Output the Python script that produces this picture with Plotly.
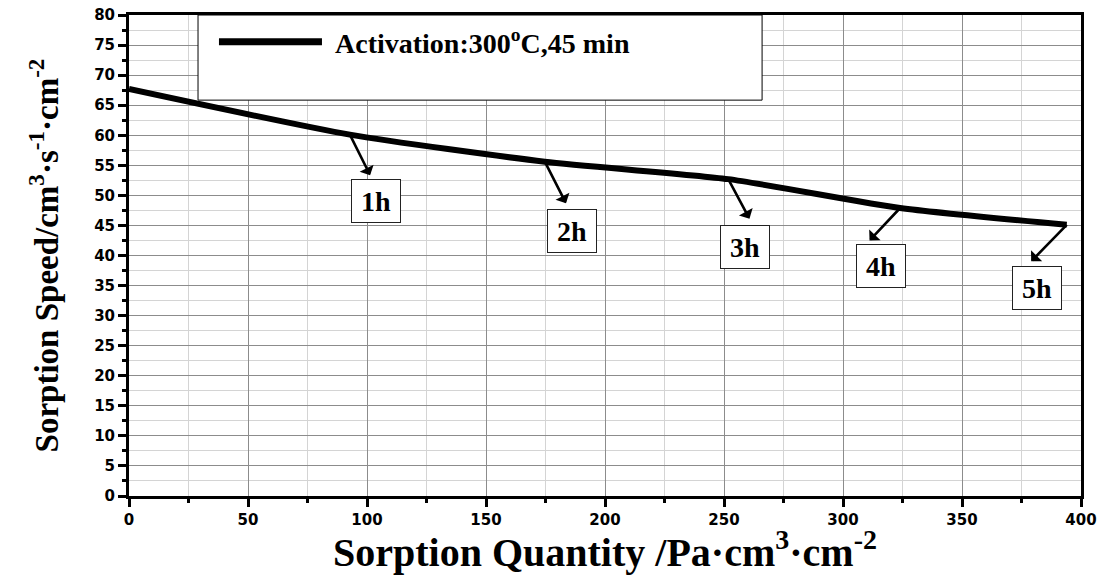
import plotly.graph_objects as go

# Sorption quantity (Pa·cm3·cm-2) and sorption speed (cm3·s-1·cm-2)
quantity = [0, 92.8, 174.7, 251.8, 324.0, 394.0]
speed = [67.7, 60.1, 55.6, 52.7, 47.9, 45.1]

# Hour marks along the curve (index into the series above)
hour_labels = ["1h", "2h", "3h", "4h", "5h"]
hour_index = [1, 2, 3, 4, 5]
# pixel offsets from each curve point to its arrow tip and to its label box
arrow_dx = [21, 22, 22, -32, -37]
arrow_dy = [42, 43, 41, 34, 38]
label_dx = [26, 27, 17, -19, -30]
label_dy = [66, 69, 68, 58, 63]

x_ticks = [0, 50, 100, 150, 200, 250, 300, 350, 400]
y_ticks = [0, 5, 10, 15, 20, 25, 30, 35, 40, 45, 50, 55, 60, 65, 70, 75, 80]

series_name = "Activation:300<sup>o</sup>C,45 min"

SERIF = "Liberation Serif"
SANS = "DejaVu Sans"

fig = go.Figure()
fig.add_trace(go.Scatter(
    x=quantity, y=speed, mode="lines", name=series_name,
    line=dict(color="black", width=6, shape="spline", smoothing=0.6),
    showlegend=False,
))

annotations = []
for lab, i, adx, ady, dx, dy in zip(hour_labels, hour_index,
                                     arrow_dx, arrow_dy, label_dx, label_dy):
    # arrow from the curve point down to the label
    annotations.append(dict(
        x=quantity[i], y=speed[i], xref="x", yref="y",
        ax=adx, ay=ady, axref="pixel", ayref="pixel",
        text="", showarrow=True, arrowside="start", arrowhead=2,
        arrowsize=1.5, arrowwidth=2.6, arrowcolor="black",
        standoff=0, startstandoff=0,
    ))
    # boxed hour label
    annotations.append(dict(
        x=quantity[i], y=speed[i], xref="x", yref="y",
        xshift=dx, yshift=-dy, showarrow=False,
        text="<b>" + lab + "</b>",
        font=dict(family=SERIF, size=28, color="black"),
        bgcolor="white", bordercolor="#222", borderwidth=1,
        width=46, height=40, borderpad=1,
    ))

# legend panel: box, line sample and series text
annotations.append(dict(
    x=0.214, y=0.9445, xref="paper", yref="paper",
    xanchor="left", yanchor="middle", showarrow=False,
    text="<b>" + series_name + "</b>",
    font=dict(family=SERIF, size=28, color="black"),
))
shapes = [
    dict(type="rect", xref="paper", yref="paper",
         x0=0.0725, x1=0.665, y0=0.823, y1=1.0,
         fillcolor="white", line=dict(color="black", width=1), layer="above"),
    dict(type="line", xref="paper", yref="paper",
         x0=0.0945, x1=0.2027, y0=0.9445, y1=0.9445,
         line=dict(color="black", width=7), layer="above"),
]

axis_common = dict(
    showline=True, linecolor="black", linewidth=3, mirror=True,
    ticks="outside", ticklen=8, tickwidth=3, tickcolor="black",
    showgrid=True, gridcolor="#8c8c8c", gridwidth=1,
    zeroline=False, automargin=False,
    tickfont=dict(family=SANS, size=15, color="black", weight="bold"),
)

fig.update_layout(
    width=1108, height=575,
    margin=dict(l=129, r=27, t=15, b=79),
    paper_bgcolor="white", plot_bgcolor="white",
    annotations=annotations, shapes=shapes,
    xaxis=dict(
        **axis_common,
        range=[0, 400], tickvals=x_ticks,
        minor=dict(dtick=25, ticks="outside", ticklen=4, tickwidth=3,
                   tickcolor="black", showgrid=True, gridcolor="#d4d4d4", gridwidth=1),
        title=dict(
            text="<b>Sorption Quantity /Pa·cm<sup>3</sup>·cm<sup>-2</sup></b>",
            font=dict(family=SERIF, size=40, color="black"), standoff=0),
    ),
    yaxis=dict(
        **axis_common,
        range=[0, 80], tickvals=y_ticks,
        minor=dict(dtick=2.5, ticks="outside", ticklen=4, tickwidth=3,
                   tickcolor="black", showgrid=True, gridcolor="#d4d4d4", gridwidth=1),
        title=dict(
            text="<b>Sorption Speed/cm<sup>3</sup>·s<sup>-1</sup>·cm<sup>-2</sup></b>",
            font=dict(family=SERIF, size=33, color="black"), standoff=26),
    ),
)

fig.write_html("out.html")
